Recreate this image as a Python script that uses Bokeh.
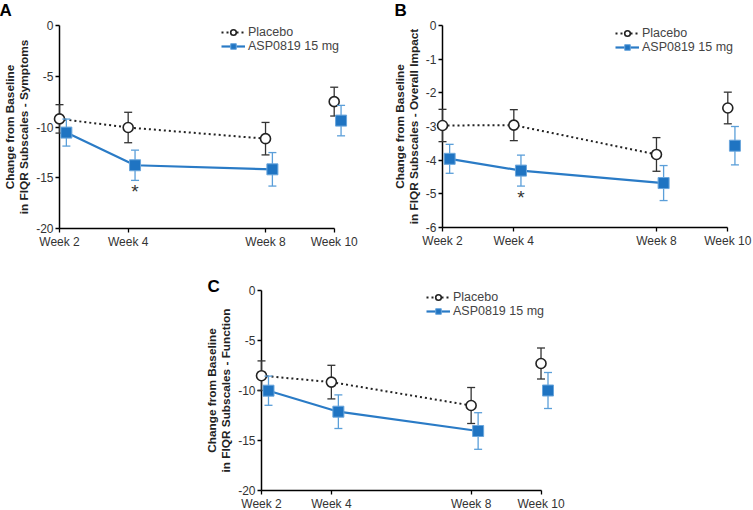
from bokeh.plotting import figure
from bokeh.models import (FixedTicker, ColumnDataSource, Legend, LegendItem, Spacer)
from bokeh.layouts import column, row
from bokeh.transform import dodge
from bokeh.embed import file_html
from bokeh.resources import INLINE
from bokeh.core.properties import value

# ---------------- data ----------------
weeks = [2, 4, 8, 10]
week_labels = ["Week 2", "Week 4", "Week 8", "Week 10"]

# Panel A - Symptoms
a_placebo = [-9.2, -10.05, -11.15, -7.5]
a_placebo_se = [1.4, 1.5, 1.6, 1.42]
a_asp = [-10.55, -13.77, -14.17, -9.37]
a_asp_se = [1.33, 1.49, 1.65, 1.5]
a_sig = [False, True, False, False]
a_ticks = [0, -5, -10, -15, -20]

# Panel B - Overall Impact
b_placebo = [-2.97, -2.96, -3.83, -2.45]
b_placebo_se = [0.48, 0.46, 0.5, 0.47]
b_asp = [-3.96, -4.31, -4.68, -3.57]
b_asp_se = [0.43, 0.46, 0.52, 0.57]
b_sig = [False, True, False, False]
b_ticks = [0, -1, -2, -3, -4, -5, -6]

# Panel C - Function
c_placebo = [-8.52, -9.16, -11.5, -7.3]
c_placebo_se = [1.48, 1.68, 1.8, 1.55]
c_asp = [-10.02, -12.12, -14.05, -10.0]
c_asp_se = [1.46, 1.68, 1.83, 1.8]
c_sig = [False, False, False, False]
c_ticks = [0, -5, -10, -15, -20]

FONT = "Liberation Sans"
BLUE_LINE = "#2a7bc6"
BLUE_FILL = "#1f74c2"
BLUE_EDGE = "#6aa6dc"
BLUE_ERR = "#5b9fd9"
DARK = "#222222"
XMIN, XMAX = 2, 10.3


def make_panel(letter, ylabel, placebo, placebo_se, asp, asp_se, sig, ticks,
               ymin, ymax, borders, frame, legend_loc, letter_off, dodge_w=0.2):
    bl, br, bt, bb = borders
    fw, fh = frame
    p = figure(x_range=(XMIN, XMAX), y_range=(ymin, ymax),
               frame_width=fw, frame_height=fh,
               min_border_left=bl, min_border_right=br,
               min_border_top=bt, min_border_bottom=bb,
               output_backend="svg", toolbar_location=None,
               background_fill_color=None, border_fill_color=None)
    p.outline_line_color = None
    p.grid.visible = False

    src = ColumnDataSource(dict(
        week=weeks,
        pl=placebo, pl_lo=[v - s for v, s in zip(placebo, placebo_se)],
        pl_hi=[v + s for v, s in zip(placebo, placebo_se)],
        asp=asp, asp_lo=[v - s for v, s in zip(asp, asp_se)],
        asp_hi=[v + s for v, s in zip(asp, asp_se)],
    ))
    n_line = 3  # weeks 2-8 are connected; week 10 is follow-up
    lsrc = ColumnDataSource(dict(week=weeks[:n_line], pl=placebo[:n_line], asp=asp[:n_line]))

    # placebo
    pl_line = p.line("week", "pl", source=lsrc, line_color=DARK, line_width=2,
                     line_dash="2 3", level="overlay")
    p.segment(x0="week", x1="week", y0="pl_lo", y1="pl_hi", source=src,
              line_color="#333333", line_width=1.3, level="overlay")
    for col in ("pl_lo", "pl_hi"):
        p.scatter("week", col, source=src, marker="dash", size=8,
                  line_color="#333333", line_width=1.3, level="overlay")
    pl_pts = p.scatter("week", "pl", source=src, marker="circle", size=10,
                       fill_color="white", line_color=DARK, line_width=1.6,
                       level="overlay")

    # ASP0819
    xd = dodge("week", dodge_w, range=p.x_range)
    asp_line = p.line(x=xd, y="asp", source=lsrc, line_color=BLUE_LINE, line_width=2.2,
                      level="overlay")
    p.segment(x0=xd, x1=xd, y0="asp_lo", y1="asp_hi", source=src,
              line_color=BLUE_ERR, line_width=1.3, level="overlay")
    for col in ("asp_lo", "asp_hi"):
        p.scatter(x=xd, y=col, source=src, marker="dash", size=8,
                  line_color=BLUE_ERR, line_width=1.3, level="overlay")
    asp_pts = p.scatter(x=xd, y="asp", source=src, marker="square", size=11,
                        fill_color=BLUE_FILL, line_color=BLUE_EDGE, line_width=1,
                        level="overlay")

    # significance stars
    sw = [w for w, s in zip(weeks, sig) if s]
    sy = [v - s for v, s, g in zip(asp, asp_se, sig) if g]
    if sw:
        ssrc = ColumnDataSource(dict(week=sw, y=sy))
        p.text(x=dodge("week", dodge_w, range=p.x_range), y="y", text=value("*"),
               source=ssrc, text_font=value(FONT), text_font_size="19px",
               text_color="#333333", text_align="center", text_baseline="top",
               y_offset=1, level="overlay")

    # axes
    for ax in (p.xaxis[0], p.yaxis[0]):
        ax.axis_line_color = "black"
        ax.axis_line_width = 1.5
        ax.major_tick_line_color = "black"
        ax.major_tick_line_width = 1.3
        ax.major_tick_out = 4
        ax.major_tick_in = 0
        ax.minor_tick_line_color = None
        ax.major_label_text_font = FONT
        ax.major_label_text_font_size = "12px"
        ax.major_label_text_color = "#333333"
    p.xaxis.ticker = FixedTicker(ticks=weeks)
    p.xaxis.major_label_overrides = {w: l for w, l in zip(weeks, week_labels)}
    p.xaxis.bounds = (2, 10)
    p.xaxis.major_label_standoff = 2
    p.yaxis.ticker = FixedTicker(ticks=ticks)
    p.yaxis.major_label_overrides = {t: str(t) for t in ticks}
    p.yaxis.bounds = (min(ticks), max(ticks))
    p.yaxis.major_label_standoff = 2
    p.yaxis.axis_label = ylabel
    p.yaxis.axis_label_text_font = FONT
    p.yaxis.axis_label_text_font_style = "bold"
    p.yaxis.axis_label_text_font_size = "11.8px"
    p.yaxis.axis_label_text_line_height = 1.0
    p.yaxis.axis_label_text_color = "#222222"
    p.yaxis.axis_label_standoff = 2

    legend = Legend(items=[LegendItem(label="Placebo", renderers=[pl_line, pl_pts]),
                           LegendItem(label="ASP0819 15 mg", renderers=[asp_line, asp_pts])],
                    location=legend_loc, orientation="vertical",
                    border_line_color=None, background_fill_alpha=0,
                    padding=0, spacing=0, margin=0, glyph_width=24, glyph_height=14,
                    label_height=14, label_standoff=3,
                    label_text_font=FONT, label_text_font_size="12.5px",
                    label_text_color="#444444")
    p.add_layout(legend)

    # panel letter placed by pixel offset (baseline) from the frame's top-left corner
    dx, dy = letter_off
    lx = XMIN + dx * (XMAX - XMIN) / fw
    ly = ymax + dy * (ymax - ymin) / fh
    p.text(x=[lx], y=[ly], text=[letter], text_font=value(FONT), text_font_style="bold",
           text_font_size="17px", text_color="black", text_baseline="alphabetic",
           text_align="left", level="overlay")
    return p


pa = make_panel("A", "Change from Baseline\nin FIQR Subscales - Symptoms",
                a_placebo, a_placebo_se, a_asp, a_asp_se, a_sig, a_ticks, -20, 0,
                borders=(57, 45, 25, 22), frame=(285, 203), legend_loc=(162, 175),
                letter_off=(-60, 15))
pb = make_panel("B", "Change from Baseline\nin FIQR Subscales - Overall Impact",
                b_placebo, b_placebo_se, b_asp, b_asp_se, b_sig, b_ticks, -6, 0,
                borders=(53, 14, 25, 23), frame=(296, 202), legend_loc=(173, 173),
                letter_off=(-48, 15))
pc = make_panel("C", "Change from Baseline\nin FIQR Subscales - Function",
                c_placebo, c_placebo_se, c_asp, c_asp_se, c_sig, c_ticks, -20, 0,
                borders=(61, 20, 39, 21), frame=(290, 200), legend_loc=(165, 172),
                letter_off=(-54, 4))

layout = column(row(pa, pb), row(Spacer(width=200, height=10), pc))

open("out.html", "w").write(file_html(layout, INLINE))
